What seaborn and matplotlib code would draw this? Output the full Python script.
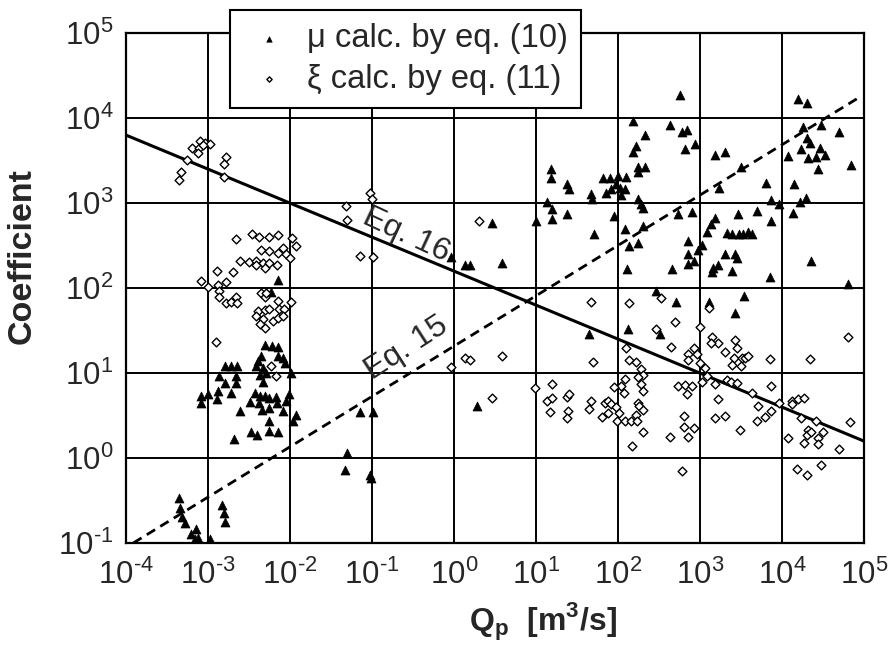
import matplotlib
matplotlib.use("Agg")
import matplotlib.pyplot as plt
import numpy as np
import seaborn as sns
from matplotlib.ticker import FuncFormatter

# values, as log10(Q_p) and log10(coefficient)
mu_logq = [
    -2.15, -2.23, -2.31, -2.22, -2.14, -2.35, -2.39, -2.09, -2.15, -2.06,
    -2.79, -2.72, -2.64, -2.41, -2.33, -2.29, -2.87, -2.66, -2.37, -2.79,
    -2.66, -1.99, -2.33, -2.88, -2.72, -3.00, -3.09, -3.08, -2.89, -2.43,
    -2.37, -2.31, -2.25, -2.17, -2.01, -2.49, -2.38, -2.16, -2.05, -2.34,
    -2.26, -2.09, -2.61, -1.93, -1.96, -2.26, -2.26, -2.48, -2.40, -2.15,
    -2.68,
    -3.35, -3.34, -3.32, -3.28, -3.21, -3.14, -3.12, -3.16, -2.98, -2.83,
    -2.81, -2.79,
    0.47, -0.03, 0.13, 0.19, 0.58, -1.15, -0.99, 0.28, -1.30, -1.33,
    -1.02, -1.01,
    2.18, 2.64, 2.33, 2.22, 2.18, 2.33, 2.24, 2.24, 1.18, 1.18,
    1.38, 1.40, 1.67, 1.68, 1.82, 1.90, 2.00, 2.10, 1.98, 2.02,
    2.09, 1.92, 1.86, 2.04, 1.14, 1.20, 1.38, 1.20, 1.00, 2.25,
    2.28, 2.31, 1.95, 2.08, 2.31, 1.71, 2.14, 2.24, 2.11, 2.66,
    2.73, 2.47, 2.71, 2.12, 1.65, 2.51, 2.78,
    2.76, 4.19, 4.31, 4.26, 4.48, 4.70, 4.30, 4.34, 4.23, 4.46,
    4.52, 4.32, 4.42, 4.07, 4.44, 4.84, 3.18, 3.31, 3.50, 3.23,
    3.80, 4.15, 3.87, 3.96, 4.22, 4.29, 4.14, 2.84, 2.94, 2.82,
    2.90, 3.46, 3.70, 3.18, 3.87, 3.13, 3.09, 3.33, 3.39, 3.47,
    3.53, 3.59, 3.63, 2.85, 3.02, 2.98, 3.30, 3.43, 3.45, 2.85,
    2.93, 2.86, 3.22, 3.16, 3.15, 3.39, 3.85, 4.35, 4.81, 3.54,
    3.11, 3.43,
]
mu_logc = [
    2.10, 1.95, 1.33, 1.32, 1.31, 1.20, 1.14, 1.18, 1.20, 1.12,
    1.08, 1.08, 1.08, 1.08, 1.06, 1.00, 0.96, 0.97, 0.98, 0.88,
    0.88, 1.00, 0.90, 0.79, 0.76, 0.75, 0.73, 0.65, 0.69, 0.76,
    0.73, 0.73, 0.71, 0.72, 0.75, 0.66, 0.65, 0.65, 0.67, 0.56,
    0.59, 0.55, 0.55, 0.50, 0.44, 0.43, 0.32, 0.31, 0.27, 0.31,
    0.22,
    -0.47, -0.59, -0.69, -0.77, -0.90, -0.84, -0.94, -0.95, -0.95, -0.55,
    -0.65, -0.75,
    2.76, 2.36, 2.27, 2.27, 2.29, 0.54, 0.54, 0.61, 0.06, -0.14,
    -0.20, -0.23,
    3.96, 3.92, 3.80, 3.67, 3.60, 3.42, 3.42, 3.36, 3.40, 3.29,
    3.22, 3.16, 3.11, 3.05, 3.29, 3.29, 3.32, 3.31, 3.22, 3.18,
    3.16, 3.17, 3.12, 3.09, 3.01, 2.93, 2.87, 2.81, 2.79, 3.05,
    2.99, 2.94, 2.85, 2.70, 2.73, 2.64, 2.50, 2.53, 2.22, 2.22,
    2.87, 1.96, 1.84, 1.52, 1.46, 1.46, 3.83,
    4.27, 4.22, 4.18, 3.90, 3.92, 3.84, 3.76, 3.71, 3.63, 3.65,
    3.56, 3.53, 3.54, 3.55, 3.40, 3.45, 3.56, 3.60, 3.42, 3.18,
    3.24, 3.22, 3.03, 2.99, 3.01, 3.06, 2.88, 3.86, 3.69, 3.64,
    2.89, 2.87, 2.91, 2.82, 2.79, 2.75, 2.66, 2.65, 2.63, 2.63,
    2.64, 2.66, 2.63, 2.55, 2.51, 2.45, 2.40, 2.40, 2.35, 2.40,
    2.32, 2.28, 2.27, 2.24, 2.19, 2.20, 2.13, 2.32, 2.05, 1.91,
    1.84, 1.71,
]

xi_logq = [
    -3.26, -3.33, -3.35, -3.19, -3.10, -3.11, -3.04, -2.98, -3.12, -2.78,
    -2.80, -2.81, -3.06,
    -2.66, -2.46, -2.38, -2.26, -2.14, -1.97, -1.92, -2.35, -2.26, -2.15,
    -2.08, -2.05, -2.00, -2.61, -2.50, -2.41, -2.33, -2.26, -2.16, -2.41,
    -2.31, -2.89, -2.70, -3.08, -3.00, -2.88, -2.78, -2.86, -2.86, -2.78,
    -2.72, -2.66, -2.64, -2.35, -2.31, -2.29, -2.15, -1.99, -2.39, -2.31,
    -2.25, -2.13, -2.07, -2.41, -2.33, -2.21, -2.15, -2.08, -2.37, -2.30,
    -2.90, -2.23, -2.17,
    -1.32, -1.30, -1.02, -1.00, -1.15, -0.99, 0.30, 0.13, 0.19, 0.58,
    -0.03, 0.47,
    1.67, 2.13, 2.52, 2.70, 2.47, 2.65, 2.10, 1.69, 2.14, 2.22,
    2.28, 2.31, 2.24, 2.08, 2.28, 2.31, 2.04, 1.95, 2.07, 2.73,
    0.99, 1.20, 1.14, 1.19, 1.17, 1.38, 1.40, 1.39, 1.38, 1.67,
    1.65, 1.84, 1.88, 1.92, 1.88, 1.80, 1.98, 2.01, 1.99, 2.09,
    2.16, 2.22, 2.24, 2.26, 2.31, 2.23, 2.31, 2.17, 2.63,
    3.11, 3.00, 3.15, 3.22, 3.14, 3.30, 3.43, 3.45, 3.42, 3.51,
    3.55, 3.59, 3.39, 3.50, 3.85, 4.34, 4.81, 2.93, 2.86, 2.96,
    2.85, 3.00, 3.06, 3.09, 3.03, 3.18, 3.33, 3.38, 3.45, 2.82,
    2.90, 2.84, 3.63, 3.87, 3.71, 3.22, 3.96, 3.87, 3.79, 3.69,
    3.18, 3.31, 3.49, 4.12, 4.20, 4.27, 4.12, 4.23, 4.42, 4.32,
    4.30, 4.36, 4.50, 4.44, 4.27, 4.44, 4.07, 4.83, 4.69, 2.81,
    2.85, 2.93, 2.80, 4.18, 4.30, 4.48, 2.78,
]
xi_logc = [
    3.51, 3.37, 3.27, 3.65, 3.73, 3.65, 3.71, 3.70, 3.59, 3.54,
    3.46, 3.31, 3.68,
    2.58, 2.63, 2.60, 2.60, 2.62, 2.59, 2.50, 2.45, 2.43, 2.41,
    2.47, 2.40, 2.35, 2.32, 2.31, 2.32, 2.30, 2.30, 2.27, 2.27,
    2.24, 2.20, 2.19, 2.08, 2.01, 2.04, 2.07, 1.97, 1.89, 1.82,
    1.83, 1.90, 1.82, 1.94, 1.89, 1.94, 1.85, 1.84, 1.73, 1.74,
    1.75, 1.75, 1.75, 1.67, 1.63, 1.61, 1.65, 1.67, 1.58, 1.53,
    1.36, 1.08, 0.96,
    2.97, 2.80, 3.12, 3.05, 2.38, 2.37, 2.79, 1.18, 1.15, 1.20,
    1.07, 0.71,
    1.84, 1.82, 1.88, 1.60, 1.52, 1.31, 1.30, 1.13, 1.15, 1.13,
    1.05, 0.98, 0.95, 0.93, 0.87, 0.79, 0.85, 0.84, 0.76, 0.85,
    0.82, 0.87, 0.67, 0.71, 0.54, 0.72, 0.75, 0.55, 0.47, 0.67,
    0.58, 0.65, 0.67, 0.64, 0.53, 0.48, 0.60, 0.53, 0.43, 0.44,
    0.43, 0.51, 0.65, 0.61, 0.56, 0.43, 0.30, 0.14, 0.25,
    1.76, 1.54, 1.42, 1.35, 1.35, 1.25, 1.39, 1.29, 1.18, 1.18,
    1.18, 1.20, 1.09, 1.08, 1.16, 1.16, 1.42, 1.29, 1.22, 1.22,
    1.15, 1.12, 1.06, 0.96, 0.90, 0.87, 0.92, 0.90, 0.88, 0.86,
    0.85, 0.75, 0.76, 0.85, 0.61, 0.69, 0.65, 0.55, 0.48, 0.43,
    0.47, 0.49, 0.33, 0.67, 0.69, 0.70, 0.63, 0.47, 0.44, 0.33,
    0.27, 0.30, 0.30, 0.24, 0.18, 0.16, 0.24, 0.42, 0.10, 0.49,
    0.25, 0.35, 0.37, -0.13, -0.20, -0.08, -0.15,
]

# end points of the two fitted lines
eq16_q = [1e-4, 1e5]
eq16_c = [6300, 1.58]
eq15_q = [1.23e-4, 8.5e4]
eq15_c = [0.1, 1.72e4]

x_exps = list(range(-4, 6))
y_exps = list(range(-1, 6))

sns.set_style("white")
plt.rcParams["font.family"] = ["Liberation Sans", "DejaVu Sans"]
plt.rcParams["mathtext.fontset"] = "custom"
plt.rcParams["mathtext.rm"] = "Liberation Sans"
plt.rcParams["mathtext.bf"] = "Liberation Sans:bold"
plt.rcParams["axes.unicode_minus"] = False


def power_label(v, pos):
    k = int(round(np.log10(v)))
    if k < 0:
        return r"10$^{\text{-}%d}$" % -k
    return r"10$^{%d}$" % k


fig = plt.figure(figsize=(8.93, 6.55), dpi=100)
ax = fig.add_axes([0.141, 0.171, 0.8265, 0.7786])
ax.set(xscale="log", yscale="log")

sns.lineplot(x=eq16_q, y=eq16_c, color="black", lw=2.2, ax=ax)
sns.lineplot(x=eq15_q, y=eq15_c, color="black", lw=2.0, ax=ax)
ax.lines[-1].set_dashes((3.5, 2.2))

sns.scatterplot(
    x=10 ** np.array(mu_logq),
    y=10 ** np.array(mu_logc),
    marker="^",
    s=42,
    color="black",
    edgecolor="black",
    linewidth=0.5,
    label="\u03bc calc. by eq. (10)",
    ax=ax,
    zorder=3,
)
sns.scatterplot(
    x=10 ** np.array(xi_logq),
    y=10 ** np.array(xi_logc),
    marker="D",
    s=20,
    color="white",
    edgecolor="black",
    linewidth=1.0,
    label="\u03be calc. by eq. (11)",
    ax=ax,
    zorder=3,
)

ax.text(10 ** -0.58, 10 ** 2.62, "Eq. 16", rotation=-25, fontsize=23,
        ha="center", va="center")
ax.text(10 ** -0.58, 10 ** 1.29, "Eq. 15", rotation=33, fontsize=23,
        ha="center", va="center")

ax.set_xlim(1e-4, 1e5)
ax.set_ylim(1e-1, 1e5)
ax.set_xticks([10.0 ** k for k in x_exps])
ax.set_yticks([10.0 ** k for k in y_exps])
ax.minorticks_off()
ax.xaxis.set_major_formatter(FuncFormatter(power_label))
ax.yaxis.set_major_formatter(FuncFormatter(power_label))
ax.grid(True, which="major", color="black", lw=1.4)
ax.tick_params(axis="both", length=0, labelsize=22.5)
ax.tick_params(axis="x", pad=12)
ax.tick_params(axis="y", pad=9)
for sp in ax.spines.values():
    sp.set_color("black")
    sp.set_linewidth(1.6)

ax.set_xlabel(r"$\mathbf{Q}_{\mathbf{p}}$  [m$^{\mathbf{3}}$/s]",
              fontsize=23, fontweight="bold")
ax.set_ylabel("Coefficient", fontsize=24.5, fontweight="bold")
ax.xaxis.set_label_coords(0.565, -0.113)
ax.yaxis.set_label_coords(-0.12, 0.563)

leg = ax.legend(
    loc="upper left",
    bbox_to_anchor=(0.141, 1.045),
    borderaxespad=0,
    fontsize=23.5,
    frameon=True,
    fancybox=False,
    framealpha=1,
    edgecolor="black",
    markerscale=0.6,
    borderpad=0.4,
    handlelength=1.6,
    handletextpad=0.35,
    labelspacing=0.3,
)
leg.get_frame().set_linewidth(1.5)

fig.savefig("out.png", dpi=100)
